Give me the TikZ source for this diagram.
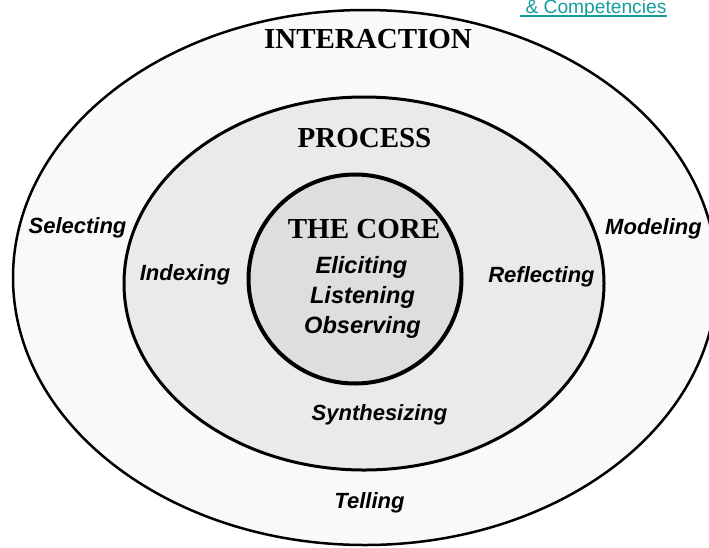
\documentclass[tikz,border=0pt]{standalone}
\usepackage{fontspec}
\usetikzlibrary{shapes.geometric,calc}
\newfontfamily\labfont{Liberation Sans}
\newfontfamily\titfont{Liberation Serif}
\definecolor{linkteal}{RGB}{20,158,158}
\definecolor{outerfill}{RGB}{249,249,249}
\definecolor{midfill}{RGB}{234,234,234}
\definecolor{corefill}{RGB}{222,222,222}
\begin{document}
\begin{tikzpicture}[x=1pt,y=-1pt,
  ring/.style={ellipse, draw=black, inner sep=0pt, outer sep=0pt},
  title/.style={anchor=base, inner sep=0pt, font=\titfont\bfseries\fontsize{29}{34}\selectfont},
  skill/.style={anchor=base, inner sep=0pt, font=\labfont\bfseries\itshape\fontsize{22}{26}\selectfont},
  coreskill/.style={skill, font=\labfont\bfseries\itshape\fontsize{23.6}{28}\selectfont},
  link/.style={anchor=base west, inner sep=0pt, text=linkteal, font=\labfont\fontsize{19.2}{22}\selectfont},
  linkrule/.style={draw=linkteal, line width=1.6pt}]
\useasboundingbox (0,0) rectangle (709,547);
\fill[white] (0,0) rectangle (709,547);
\clip (0,0) rectangle (709,547);
\node[ring, line width=2.5pt, fill=outerfill, minimum width=704pt, minimum height=535pt] (outer) at (365,277.5) {};
\node[ring, line width=3pt, fill=midfill, minimum width=480pt, minimum height=373pt] (middle) at (364,283.5) {};
\node[ring, line width=4pt, fill=corefill, minimum width=213pt, minimum height=209pt] (core) at (355,279) {};
\node[title] (interaction) at (368,48) {INTERACTION};
\node[title] (process) at (364.5,147) {PROCESS};
\node[title] (thecore) at (364,238) {THE CORE};
\node[coreskill] (eliciting) at (361.5,273) {Eliciting};
\node[coreskill] (listening) at (362.5,303) {Listening};
\node[coreskill] (observing) at (362.5,333) {Observing};
\node[skill] (selecting) at (77.5,233) {Selecting};
\node[skill] (indexing) at (185,280) {Indexing};
\node[skill] (modeling) at (653.5,234) {Modeling};
\node[skill] (reflecting) at (541.5,282) {Reflecting};
\node[skill] (synthesizing) at (379.5,420) {Synthesizing};
\node[skill] (telling) at (369.5,508) {Telling};
\node[link] (competencies) at (520,13.5) {\ \&\ Competencies};
\draw[linkrule] ($(competencies.base west)+(0,2.3)$) -- ($(competencies.base east)+(0,2.3)$);
\end{tikzpicture}
\end{document}
